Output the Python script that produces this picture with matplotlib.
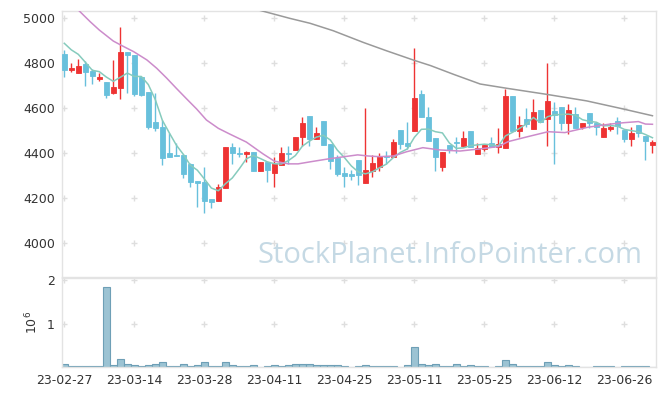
import matplotlib
matplotlib.use("Agg")
import matplotlib.pyplot as plt
from matplotlib.ticker import FuncFormatter
import numpy as np
import pandas as pd

# daily candles (KRX trading days 23-02-27 .. 23-06-30)
opens = [4840, 4770, 4755, 4795, 4765, 4730, 4715, 4670, 4690, 4850,
         4838, 4740, 4672, 4538, 4517, 4400, 4394, 4393, 4353, 4276,
         4273, 4197, 4188, 4247, 4428, 4401, 4399, 4406, 4322, 4361,
         4314, 4350, 4403, 4416, 4474, 4566, 4465, 4544, 4440, 4379,
         4313, 4308, 4370, 4270, 4323, 4338, 4390, 4385, 4504, 4444,
         4501, 4664, 4561, 4468, 4341, 4436, 4450, 4433, 4498, 4399,
         4421, 4444, 4427, 4424, 4655, 4501, 4554, 4507, 4593, 4554,
         4588, 4604, 4536, 4575, 4519, 4578, 4536, 4474, 4510, 4542,
         4504, 4462, 4524, 4477, 4439]
highs = [4858, 4800, 4820, 4810, 4775, 4755, 4715, 4815, 4960, 4850,
         4838, 4740, 4672, 4670, 4548, 4490, 4446, 4395, 4355, 4276,
         4341, 4197, 4262, 4428, 4446, 4428, 4408, 4406, 4361, 4361,
         4382, 4427, 4433, 4473, 4560, 4566, 4519, 4544, 4440, 4394,
         4341, 4326, 4370, 4600, 4391, 4403, 4410, 4462, 4504, 4539,
         4867, 4681, 4604, 4468, 4406, 4436, 4471, 4498, 4498, 4447,
         4437, 4474, 4511, 4684, 4655, 4566, 4600, 4640, 4593, 4800,
         4628, 4604, 4618, 4604, 4535, 4578, 4536, 4533, 4536, 4560,
         4504, 4519, 4524, 4477, 4459]
lows = [4740, 4760, 4755, 4700, 4710, 4720, 4645, 4665, 4640, 4670,
        4655, 4653, 4510, 4500, 4350, 4382, 4386, 4289, 4252, 4160,
        4136, 4156, 4186, 4247, 4351, 4384, 4363, 4322, 4322, 4274,
        4249, 4350, 4353, 4416, 4433, 4433, 4465, 4439, 4329, 4301,
        4249, 4281, 4261, 4270, 4296, 4320, 4353, 4385, 4418, 4418,
        4501, 4563, 4456, 4323, 4320, 4403, 4400, 4433, 4430, 4399,
        4409, 4428, 4403, 4424, 4501, 4474, 4516, 4507, 4539, 4433,
        4353, 4504, 4486, 4513, 4507, 4511, 4481, 4474, 4498, 4486,
        4450, 4433, 4471, 4370, 4403]
closes = [4770, 4780, 4790, 4760, 4745, 4740, 4660, 4695, 4850, 4838,
          4665, 4660, 4515, 4514, 4381, 4384, 4388, 4310, 4273, 4270,
          4190, 4185, 4249, 4428, 4400, 4395, 4406, 4322, 4361, 4326,
          4353, 4400, 4397, 4473, 4535, 4465, 4489, 4439, 4367, 4310,
          4301, 4301, 4305, 4326, 4356, 4388, 4385, 4450, 4441, 4433,
          4646, 4563, 4456, 4382, 4406, 4421, 4444, 4468, 4430, 4424,
          4437, 4430, 4441, 4655, 4501, 4526, 4530, 4584, 4539, 4633,
          4570, 4536, 4593, 4513, 4535, 4533, 4516, 4513, 4519, 4521,
          4462, 4489, 4489, 4456, 4450]
volumes = [60000, 20000, 20000, 20000, 20000, 20000, 1850000, 50000, 180000, 60000,
           50000, 20000, 50000, 60000, 110000, 20000, 20000, 60000, 20000, 45000,
           110000, 20000, 20000, 110000, 45000, 20000, 20000, 45000, 0, 20000,
           45000, 20000, 45000, 80000, 80000, 60000, 45000, 45000, 45000, 45000,
           20000, 0, 20000, 45000, 20000, 20000, 20000, 20000, 0, 45000,
           460000, 60000, 45000, 60000, 20000, 20000, 60000, 20000, 45000, 20000,
           20000, 0, 20000, 150000, 60000, 20000, 20000, 20000, 20000, 110000,
           45000, 20000, 45000, 20000, 0, 0, 20000, 20000, 20000, 0,
           20000, 20000, 20000, 20000, 0]

tick_pos = [0, 10, 20, 30, 40, 50, 60, 70, 80]
tick_labels = ["23-02-27", "23-03-14", "23-03-28", "23-04-11", "23-04-25",
               "23-05-11", "23-05-25", "23-06-12", "23-06-26"]

# first MA5 points come from days before the window
ma5_head = [4889, 4860, 4840, 4805]
# MA20 / MA60
ma20_x = [0, 2.1, 3.7, 5, 7, 8.2, 9.9, 11.8, 13.2, 14.6, 16, 17.5, 18.9, 20.3, 22,
          23.6, 26, 28.4, 30, 32, 33.4, 35.3, 37.7, 40, 41.9, 43.4, 45, 47, 48.9,
          51.2, 53.6, 56.5, 59.5, 62, 63.4, 66.2, 69.1, 71.5, 74.8, 78, 79.9, 82, 83, 84]
ma20_y = [5095, 5034, 4985, 4948, 4899, 4879, 4852, 4815, 4778, 4735, 4689, 4641, 4597,
          4548, 4511, 4486, 4450, 4397, 4365, 4353, 4353, 4363, 4375, 4385, 4393, 4388,
          4385, 4388, 4407, 4425, 4415, 4410, 4420, 4430, 4452, 4474, 4496, 4492, 4516,
          4530, 4536, 4541, 4530, 4529]
ma60_x = [28, 32.2, 35.1, 38.4, 42.7, 46, 50, 52.3, 55.6, 59.4, 63.2, 68.9, 74.6, 79.4, 84]
ma60_y = [5035, 5000, 4978, 4945, 4893, 4856, 4813, 4790, 4751, 4708, 4689, 4662, 4633,
          4600, 4567]

RED = "#ee3333"
BLUE = "#68c0dc"

fig = plt.figure(figsize=(6.65, 3.96), dpi=100)
ax = fig.add_axes([0.0932, 0.3005, 0.8932, 0.6725])
axv = fig.add_axes([0.0932, 0.0732, 0.8932, 0.2240], sharex=ax)

idx = np.arange(len(closes))
o = np.array(opens)
c = np.array(closes)
up = c >= o
colors = np.where(up, RED, BLUE)

ax.vlines(idx, lows, highs, colors=colors, linewidth=1.0, zorder=3)
ax.bar(idx, np.abs(c - o), bottom=np.minimum(o, c), width=0.7, color=colors,
       edgecolor=colors, linewidth=0.6, zorder=3)

ma5 = pd.Series(closes).rolling(5).mean().to_numpy()
ma5[:4] = ma5_head
ax.plot(idx, ma5, color="#86cbbd", linewidth=1.1, zorder=4)
ax.plot(ma20_x, ma20_y, color="#cc8ccb", linewidth=1.1, zorder=4)
ax.plot(ma60_x, ma60_y, color="#9a9a9a", linewidth=1.1, zorder=4)

axv.bar(idx, volumes, width=1.0, color="#9cc3d3", edgecolor="#6e9fb6", linewidth=0.8)

ax.set_xlim(-0.33, 84.5)
ax.set_ylim(3850, 5034)
axv.set_ylim(0, 2.04e6)

price_ticks = [4000, 4200, 4400, 4600, 4800, 5000]
ax.set_yticks(price_ticks)
axv.set_yticks([1e6, 2e6])
axv.yaxis.set_major_formatter(FuncFormatter(lambda v, p: "%d" % round(v / 1e6)))
axv.set_xticks(tick_pos)
axv.set_xticklabels(tick_labels)
ax.tick_params(axis="x", labelbottom=False)

for a in (ax, axv):
    a.tick_params(length=0, labelsize=9, colors="#333333", pad=5)
    for s in a.spines.values():
        s.set_color("#e3e3e3")
        s.set_linewidth(1.0)

# grid drawn as small crosses at tick intersections
gx, gy = np.meshgrid(tick_pos, price_ticks)
ax.plot(gx.ravel(), gy.ravel(), "+", color="#dedede", markersize=5, zorder=1)
gx, gy = np.meshgrid(tick_pos, [1e6, 2e6])
axv.plot(gx.ravel(), gy.ravel(), "+", color="#dedede", markersize=5, zorder=1)

axv.text(-0.05, 0.5, "$10^6$", transform=axv.transAxes, rotation=90,
         ha="center", va="center", fontsize=9, color="#333333")

fig.text(0.676, 0.355, "StockPlanet.InfoPointer.com", fontsize=21, family="Open Sans",
         color="#c5d9e4", ha="center", va="center", zorder=0)

fig.savefig("out.png", dpi=100)
